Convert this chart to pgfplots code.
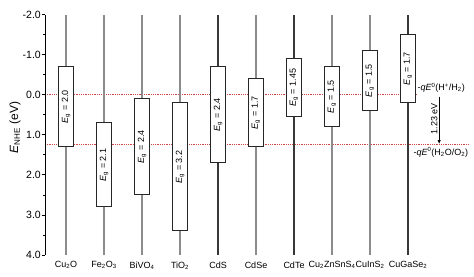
\documentclass[border=0pt]{standalone}
\usepackage{pgfplots}
\pgfplotsset{compat=1.18}
\usepgfplotslibrary{statistics}
\usetikzlibrary{arrows.meta}
\usepackage{fontspec}
\setmainfont{Liberation Sans}
\definecolor{wlight}{RGB}{140,140,140}
\definecolor{wdark}{RGB}{55,55,55}
\definecolor{redl}{RGB}{205,70,70}
% draw position, CB, VB, whisker colour
\newcommand{\band}[4]{%
\addplot[boxplot prepared={draw direction=y, draw position=#1, lower whisker=-2, lower quartile=#2, median=#2, upper quartile=#3, upper whisker=4, box extend=0.42, whisker extend=0},
 boxplot/every box/.style={draw=black!85, fill=white, line width=1pt},
 boxplot/every whisker/.style={draw=#4, line width=1.1pt},
 boxplot/every median/.style={draw=none}] coordinates {};
}
\begin{document}
\begin{tikzpicture}
\begin{axis}[
  scale only axis, width=427.6pt, height=240.4pt,
  xmin=-0.553, xmax=10.7, ymin=-2, ymax=4, y dir=reverse,
  axis line style={draw=none},
  clip=false,
  ytick={-2,-1,0,1,2,3,4},
  yticklabels={-2.0,-1.0,0.0,1.0,2.0,3.0,4.0},
  minor y tick num=1,
  ytick pos=left, tick align=outside,
  major tick length=3pt, minor tick length=2pt,
  every tick/.style={black, line width=0.8pt},
  xtick={0,...,9},
  xtick style={draw=none},
  xticklabels={Cu\textsubscript{2}O, Fe\textsubscript{2}O\textsubscript{3}, BiVO\textsubscript{4}, TiO\textsubscript{2}, CdS, CdSe, CdTe, Cu\textsubscript{2}ZnSnS\textsubscript{4}, CuInS\textsubscript{2}, CuGaSe\textsubscript{2}},
  xticklabel style={font=\fontsize{9}{10}\selectfont},
  yticklabel style={font=\fontsize{10.5}{12}\selectfont, inner sep=1pt},
  ylabel={\textit{E}\textsubscript{NHE} (eV)},
  ylabel style={font=\fontsize{12}{14}\selectfont, at={(axis description cs:-0.0702,0.53)}, anchor=center},
]
% redox levels
\addplot[redl, densely dotted, line width=0.8pt] coordinates {(-0.553,0) (9.24,0)};
\addplot[redl, densely dotted, line width=0.8pt] coordinates {(-0.553,1.23) (10.58,1.23)};
% bands: position, CB, VB
\band{0}{-0.7}{1.3}{wlight}
\band{1}{0.7}{2.8}{wlight}
\band{2}{0.1}{2.5}{wlight}
\band{3}{0.2}{3.4}{wlight}
\band{4}{-0.7}{1.7}{wdark}
\band{5}{-0.4}{1.3}{wlight}
\band{6}{-0.9}{0.55}{wdark}
\band{7}{-0.7}{0.8}{wlight}
\band{8}{-1.1}{0.4}{wlight}
\band{9}{-1.5}{0.2}{wdark}
% spine
\draw[black, line width=0.9pt] (rel axis cs:0,0) -- (rel axis cs:0,1);
% gap labels
\begin{scope}[every node/.style={rotate=90, font=\fontsize{9}{10}\selectfont, inner sep=0pt}]
\node at (axis cs:0,0.3) {\textit{E}\textsubscript{g} = 2.0};
\node at (axis cs:1,1.75) {\textit{E}\textsubscript{g} = 2.1};
\node at (axis cs:2,1.3) {\textit{E}\textsubscript{g} = 2.4};
\node at (axis cs:3,1.8) {\textit{E}\textsubscript{g} = 3.2};
\node at (axis cs:4,0.5) {\textit{E}\textsubscript{g} = 2.4};
\node at (axis cs:5,0.45) {\textit{E}\textsubscript{g} = 1.7};
\node at (axis cs:6,-0.175) {\textit{E}\textsubscript{g} = 1.45};
\node at (axis cs:7,0.05) {\textit{E}\textsubscript{g} = 1.5};
\node at (axis cs:8,-0.35) {\textit{E}\textsubscript{g} = 1.5};
\node at (axis cs:9,-0.65) {\textit{E}\textsubscript{g} = 1.7};
\end{scope}
% annotations
\node[anchor=south west, font=\fontsize{9}{10}\selectfont, inner sep=1pt] at (axis cs:9.22,-0.02) {-\textit{qE}\textsuperscript{0}(H\textsuperscript{+}/H\textsubscript{2})};
\node[anchor=west, font=\fontsize{9}{10}\selectfont, inner sep=0pt] at (axis cs:9.14,1.43) {-\textit{qE}\textsuperscript{0}(H\textsubscript{2}O/O\textsubscript{2})};
\draw[black, line width=0.9pt, -{Latex[length=4pt,width=3.5pt]}] (axis cs:9.82,0.05) -- (axis cs:9.82,1.23);
\node[rotate=90, anchor=south, font=\fontsize{9}{10}\selectfont, inner sep=1.5pt] at (axis cs:9.82,0.6) {1.23 eV};
\end{axis}
\path[use as bounding box] ([xshift=-45pt,yshift=-21pt]current axis.south west) rectangle ([xshift=1.4pt,yshift=14.6pt]current axis.north east);
\end{tikzpicture}
\end{document}
